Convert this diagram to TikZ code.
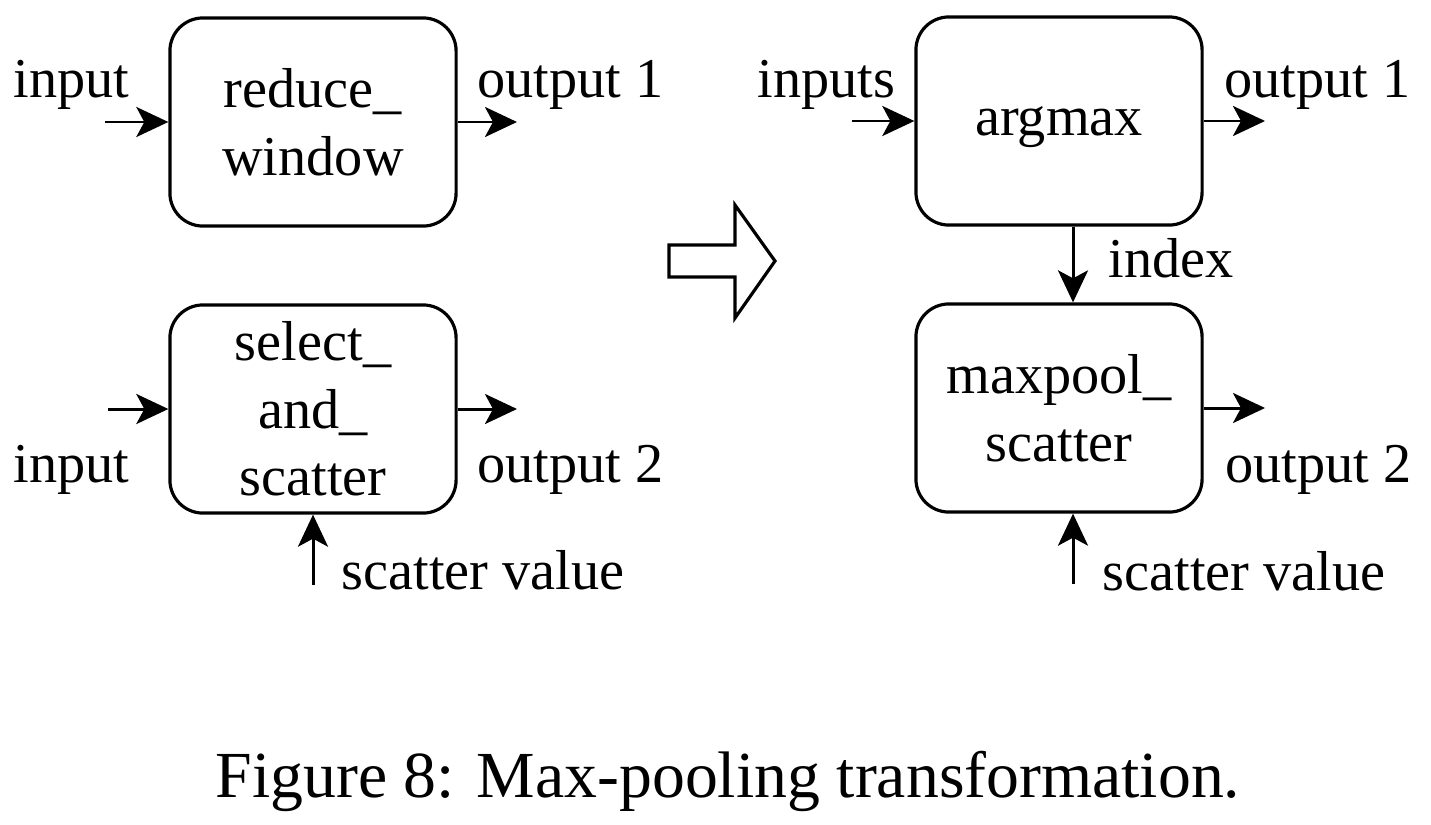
\documentclass[tikz,border=0pt]{standalone}
\usepackage{fontspec}
\setmainfont{Liberation Serif}
\usetikzlibrary{arrows.meta,positioning}

\begin{document}
\begin{tikzpicture}[x=0.01cm,y=-0.01cm,>={Stealth[length=3.2mm,width=3mm,inset=0.8mm]},
  op/.style={draw,line width=0.9pt,rounded corners=3.3mm,minimum width=2.86cm,minimum height=2.08cm,align=center,inner sep=0pt,font=\fontsize{16}{19.2}\selectfont},
  lbl/.style={anchor=base west,inner sep=0pt,font=\fontsize{16}{19.2}\selectfont},
  flow/.style={->,line width=0.85pt}]
  \useasboundingbox (0,0) rectangle (1431,824);
  % left: original ops
  \node[op] (rw) at (313,122) {reduce\_\\window};
  \node[op] (sas) at (313,409) {select\_\\and\_\\scatter};
  \coordinate (rwin) at (105,122);
  \coordinate (rwout) at (517,122);
  \coordinate (sasin) at (108,409);
  \coordinate (sasout) at (517,409);
  \coordinate (sasval) at (313,585);
  \draw[flow] (rwin) -- (rw.west);
  \draw[flow] (rw.east) -- (rwout);
  \draw[flow] (sasin) -- (sas.west);
  \draw[flow] (sas.east) -- (sasout);
  \draw[flow] (sasval) -- (sas.south);
  \node[lbl] (rwinl) at (13,97) {input};
  \node[lbl] (rwoutl) at (477,97) {output 1};
  \node[lbl] (sasinl) at (13,482) {input};
  \node[lbl] (sasoutl) at (477,482) {output 2};
  \node[lbl] (sasvall) at (341,589) {scatter value};
  % transformation arrow
  \draw[line width=0.9pt] (669,245) -- (735,245) -- (735,205) -- (775,261)
    -- (735,318) -- (735,277) -- (669,277) -- cycle;
  % right: rewritten ops
  \node[op,text depth=0pt] (am) at (1059,121) {argmax};
  \node[op] (mps) at (1059,408) {maxpool\_\\scatter};
  \coordinate (amin) at (852,121);
  \coordinate (amout) at (1265,121);
  \coordinate (mpsout) at (1265,408);
  \coordinate (mpsval) at (1073,584);
  \draw[flow] (amin) -- (am.west);
  \draw[flow] (am.east) -- (amout);
  \draw[flow] ([xshift=0.14cm]am.south) -- ([xshift=0.14cm]mps.north);
  \draw[flow] (mps.east) -- (mpsout);
  \draw[flow] (mpsval) -- (mpsval |- mps.south);
  \node[lbl] (aminl) at (757,97) {inputs};
  \node[lbl] (amoutl) at (1224,97) {output 1};
  \node[lbl] (idxl) at (1108,277) {index};
  \node[lbl] (mpsoutl) at (1225,482) {output 2};
  \node[lbl] (mpsvall) at (1102,590) {scatter value};
  % caption
  \node[anchor=base,inner sep=0pt,font=\fontsize{18.7}{22}\selectfont] (cap) at (728,797) {Figure 8: Max-pooling transformation.};
\end{tikzpicture}
\end{document}
